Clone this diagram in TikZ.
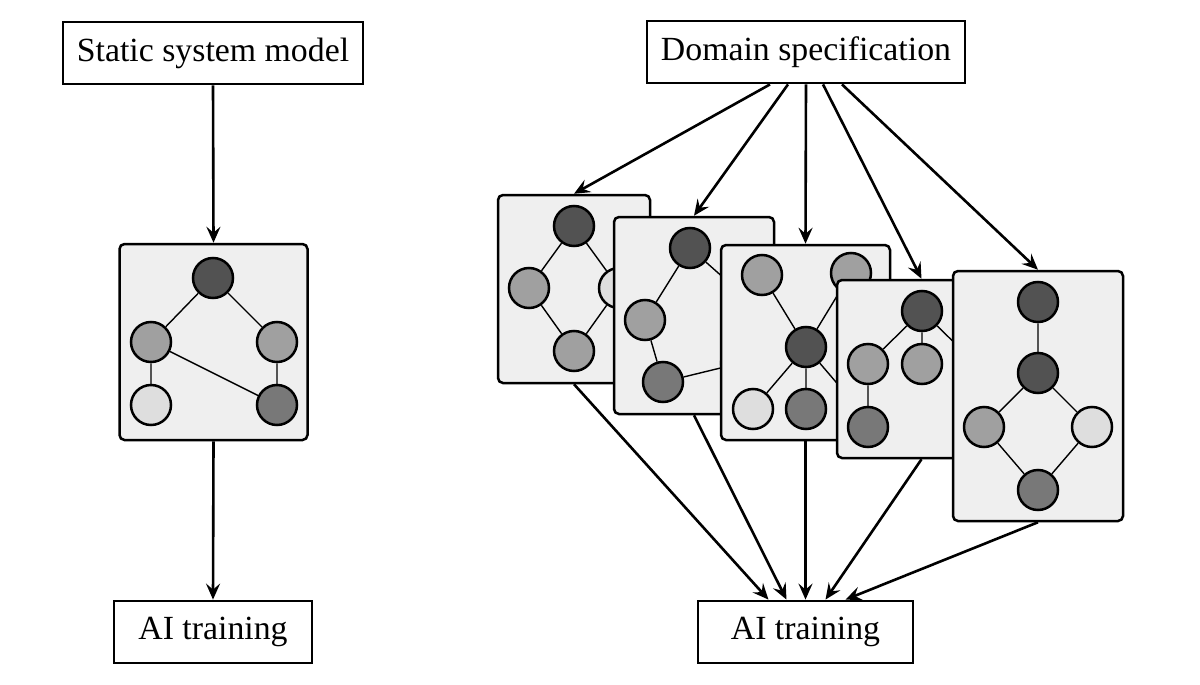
\documentclass[tikz,border=0pt]{standalone}
\usepackage{fontspec}
\setmainfont{Liberation Serif}
\usetikzlibrary{arrows.meta}
\definecolor{cdark}{HTML}{525252}
\definecolor{cmed}{HTML}{A0A0A0}
\definecolor{clight}{HTML}{DEDEDE}
\definecolor{cdm}{HTML}{787878}
\definecolor{cardfill}{HTML}{EFEFEF}
\begin{document}
\begin{tikzpicture}[x=0.5pt,y=-0.5pt,
  txtbox/.style={draw, line width=1.4pt, fill=white, inner sep=0pt, minimum height=31pt, font=\fontsize{16.9}{20}\selectfont},
  card/.style={draw, line width=1.25pt, fill=cardfill, rounded corners=2.5pt, inner sep=0pt},
  gn/.style={circle, draw, line width=1.25pt, minimum size=20pt, inner sep=0pt},
  dk/.style={gn, fill=cdark},
  md/.style={gn, fill=cmed},
  lt/.style={gn, fill=clight},
  dm/.style={gn, fill=cdm},
  link/.style={line width=0.7pt},
  arr/.style={line width=1.3pt, -{Stealth[length=8pt,width=7pt,inset=3pt]}}]
\useasboundingbox (0,0) rectangle (1200,685);

% left panel
\node[txtbox, minimum width=150pt] (ssm) at (213,53) {Static system model};
\node[card, minimum width=94pt, minimum height=98pt] (L) at (213.5,342) {};
\node[dk] (L1) at (213,278) {};
\node[md] (L2) at (151,342) {};
\node[md] (L3) at (277,342) {};
\node[lt] (L4) at (151,405) {};
\node[dm] (L5) at (277,405) {};
\draw[link] (L1)--(L2) (L1)--(L3) (L2)--(L4) (L3)--(L5) (L2)--(L5);
\node[txtbox, minimum width=99pt] (ai1) at (213,632) {AI training};
\draw[arr] (ssm.south) -- (L.north);
\draw[arr] (L.south) -- (ai1.north);

% right panel
\node[txtbox, minimum width=159pt] (ds) at (806,52) {Domain specification};
\node[txtbox, minimum width=107.5pt] (ai2) at (805.5,632) {AI training};

% card 1
\node[card, minimum width=76pt, minimum height=94pt] (c1) at (574,289) {};
\node[dk] (A1) at (574,226) {};
\node[md] (A2) at (529,288) {};
\node[lt] (A3) at (619,288) {};
\node[md] (A4) at (574,351) {};
\draw[link] (A1)--(A2) (A1)--(A3) (A2)--(A4) (A3)--(A4);

% card 2
\node[card, minimum width=80pt, minimum height=98.5pt] (c2) at (694,315.5) {};
\node[dk] (B1) at (690,248) {};
\node[md] (B2) at (645,320) {};
\node[dm] (B3) at (663,382) {};
\node[dm] (B4) at (741,363) {};
\node[md] (B5) at (743,295) {};
\draw[link] (B1)--(B2) (B1)--(B5) (B2)--(B3) (B3)--(B4) (B5)--(B4);

% card 3
\node[card, minimum width=84.5pt, minimum height=97.5pt] (c3) at (805.5,342.5) {};
\node[md] (C1) at (762,275) {};
\node[md] (C2) at (851,273) {};
\node[dk] (C3) at (806,347) {};
\node[lt] (C4) at (753,409) {};
\node[dm] (C5) at (806,409) {};
\node[md] (C6) at (859,409) {};
\draw[link] (C1)--(C3) (C2)--(C3) (C3)--(C4) (C3)--(C5) (C3)--(C6);

% card 4
\node[card, minimum width=84.5pt, minimum height=89pt] (c4) at (921.5,369) {};
\node[dk] (D1) at (922,311) {};
\node[md] (D2) at (868,364) {};
\node[md] (D3) at (922,364) {};
\node[dm] (D4) at (868,427) {};
\node[lt] (D5) at (976,364) {};
\draw[link] (D1)--(D2) (D1)--(D3) (D1)--(D5) (D2)--(D4);

% card 5
\node[card, minimum width=85pt, minimum height=125pt] (c5) at (1038,396) {};
\node[dk] (E1) at (1038,302) {};
\node[dk] (E2) at (1038,373) {};
\node[md] (E3) at (984,427) {};
\node[lt] (E4) at (1092,427) {};
\node[dm] (E5) at (1038,490) {};
\draw[link] (E1)--(E2) (E2)--(E3) (E2)--(E4) (E3)--(E5) (E4)--(E5);

% arrows from domain specification
\draw[arr] ([xshift=-18pt]ds.south) -- (c1.north);
\draw[arr] ([xshift=-9pt]ds.south) -- (c2.north);
\draw[arr] (ds.south) -- (c3.north);
\draw[arr] ([xshift=8.5pt]ds.south) -- (c4.north);
\draw[arr] ([xshift=18pt]ds.south) -- (c5.north);

% arrows to AI training
\draw[arr] (c1.south) -- ([xshift=-18.5pt]ai2.north);
\draw[arr] (c2.south) -- ([xshift=-9.5pt]ai2.north);
\draw[arr] (c3.south) -- (ai2.north);
\draw[arr] (c4.south) -- ([xshift=10pt]ai2.north);
\draw[arr] (c5.south) -- ([xshift=20pt]ai2.north);
\end{tikzpicture}
\end{document}
